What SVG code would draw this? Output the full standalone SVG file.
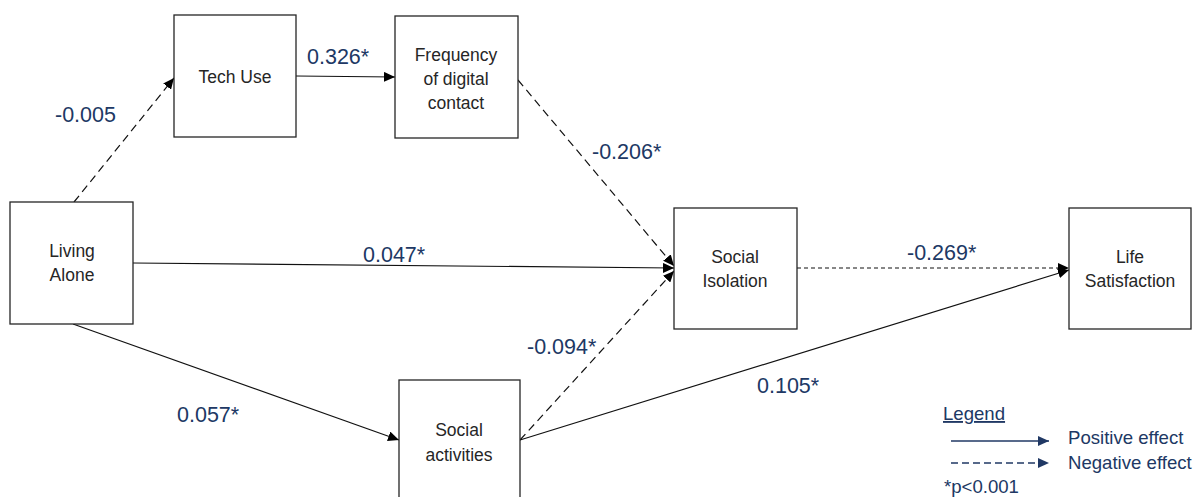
<svg xmlns="http://www.w3.org/2000/svg" width="1195" height="497" viewBox="0 0 1195 497">
<style>
.box{fill:#fff;stroke:#262626;stroke-width:1.3}
.nt{font-family:"Liberation Sans",Arial,sans-serif;font-size:17.5px;fill:#262626;text-anchor:middle}
.lb{font-family:"Liberation Sans",Arial,sans-serif;font-size:21.5px;fill:#203864}
.lg{font-family:"Liberation Sans",Arial,sans-serif;font-size:18.6px;fill:#203864}
.c{fill:none;stroke:#111;stroke-width:1.2}
.d{stroke-dasharray:8 5}
.dd{stroke-dasharray:4 3}
</style>
<defs>
<marker id="ah" markerUnits="userSpaceOnUse" markerWidth="12" markerHeight="10" refX="11" refY="5" orient="auto">
<path d="M0,0 L11,5 L0,10 z" fill="#000"/>
</marker>
<marker id="ahn" markerUnits="userSpaceOnUse" markerWidth="12" markerHeight="10" refX="11" refY="5" orient="auto">
<path d="M0,0 L11,5 L0,10 z" fill="#203864"/>
</marker>
</defs>
<rect width="1195" height="497" fill="#fff"/>
<g id="connectors">
<line class="c d" x1="74" y1="202" x2="174" y2="78" marker-end="url(#ah)"/>
<line class="c" x1="296" y1="76" x2="395" y2="77" marker-end="url(#ah)"/>
<line class="c d" x1="518" y1="80" x2="674" y2="266" marker-end="url(#ah)"/>
<line class="c" x1="133" y1="263" x2="674" y2="268" marker-end="url(#ah)"/>
<line class="c d" x1="520" y1="440" x2="674" y2="271" marker-end="url(#ah)"/>
<line class="c dd" x1="797" y1="268" x2="1069" y2="268" marker-end="url(#ah)"/>
<line class="c" x1="520" y1="440" x2="1069" y2="270" marker-end="url(#ah)"/>
<line class="c" x1="73" y1="324" x2="399" y2="440" marker-end="url(#ah)"/>
</g>
<g id="living-alone"><rect class="box" x="10" y="202" width="123" height="122"/><text class="nt" x="72" y="257">Living</text><text class="nt" x="72" y="281">Alone</text></g>
<g id="tech-use"><rect class="box" x="174" y="15" width="122" height="122"/><text class="nt" x="235" y="83">Tech Use</text></g>
<g id="frequency"><rect class="box" x="395" y="16" width="123" height="122"/><text class="nt" x="456" y="61">Frequency</text><text class="nt" x="456" y="85">of digital</text><text class="nt" x="456" y="109">contact</text></g>
<g id="social-isolation"><rect class="box" x="674" y="208" width="123" height="121"/><text class="nt" x="735" y="263">Social</text><text class="nt" x="735" y="287">Isolation</text></g>
<g id="life-satisfaction"><rect class="box" x="1069" y="208" width="122" height="121"/><text class="nt" x="1130" y="263">Life</text><text class="nt" x="1130" y="287">Satisfaction</text></g>
<g id="social-activities"><rect class="box" x="399" y="380" width="121" height="130"/><text class="nt" x="459" y="436">Social</text><text class="nt" x="459" y="461">activities</text></g>
<g id="labels">
<text class="lb" x="55" y="122">-0.005</text>
<text class="lb" x="307" y="64">0.326*</text>
<text class="lb" x="592" y="159">-0.206*</text>
<text class="lb" x="363" y="262">0.047*</text>
<text class="lb" x="907" y="260">-0.269*</text>
<text class="lb" x="527" y="354">-0.094*</text>
<text class="lb" x="757" y="393">0.105*</text>
<text class="lb" x="177" y="422">0.057*</text>
</g>
<g id="legend">
<text class="lg" x="943" y="420" text-decoration="underline">Legend</text>
<line x1="951" y1="441" x2="1049" y2="441" stroke="#203864" stroke-width="1.3" marker-end="url(#ahn)"/>
<text class="lg" x="1068" y="444">Positive effect</text>
<line x1="951" y1="463" x2="1049" y2="463" stroke="#203864" stroke-width="1.3" stroke-dasharray="7 4" marker-end="url(#ahn)"/>
<text class="lg" x="1068" y="469">Negative effect</text>
<text class="lg" x="944" y="493">*p&lt;0.001</text>
</g>
</svg>
